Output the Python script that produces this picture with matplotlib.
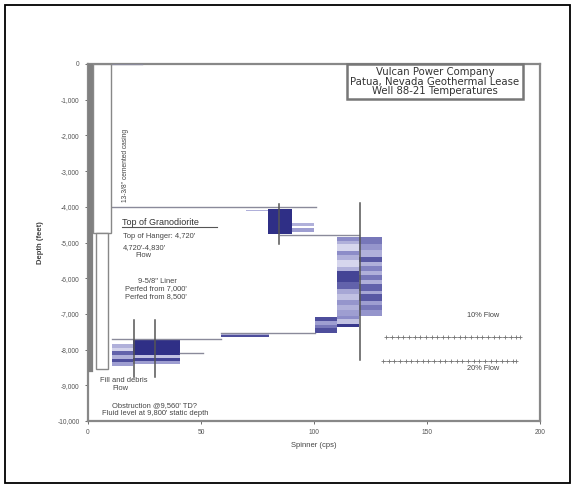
import matplotlib
matplotlib.use("Agg")
import matplotlib.pyplot as plt
from matplotlib.patches import Rectangle
from matplotlib.colors import LinearSegmentedColormap
from matplotlib.ticker import FuncFormatter

plt.rcParams['font.family'] = ['Liberation Sans', 'DejaVu Sans']

# ---------------- data ----------------
x_ticks = [0, 50, 100, 150, 200]
y_ticks = [0, -1000, -2000, -3000, -4000, -5000, -6000, -7000, -8000, -9000, -10000]

# spinner blocks: x_left, x_right, depth_top, depth_bottom, intensity
top_block = [(79.6, 90.3, -4070, -4770, 0.95),
             (90.3, 100.0, -4450, -4550, 0.3),
             (90.3, 100.0, -4600, -4700, 0.4),
             (70.0, 79.6, -4080, -4130, 0.3)]

cluster_left = [(110, 120, -4850, -4950, 0.5), (110, 120, -4950, -5050, 0.3),
                (110, 120, -5050, -5250, 0.08), (110, 120, -5250, -5350, 0.5),
                (110, 120, -5350, -5500, 0.3), (110, 120, -5500, -5700, 0.08),
                (110, 120, -5700, -5800, 0.3), (110, 120, -5800, -6100, 0.85),
                (110, 120, -6100, -6300, 0.7), (110, 120, -6300, -6450, 0.35),
                (110, 120, -6450, -6600, 0.2), (110, 120, -6600, -6750, 0.45),
                (110, 120, -6750, -6900, 0.3), (110, 120, -6900, -7050, 0.4)]

cluster_right = [(120, 130, -4850, -5050, 0.6), (120, 130, -5050, -5200, 0.45),
                 (120, 130, -5200, -5400, 0.3), (120, 130, -5400, -5550, 0.75),
                 (120, 130, -5550, -5650, 0.3), (120, 130, -5650, -5800, 0.55),
                 (120, 130, -5800, -5900, 0.3), (120, 130, -5900, -6050, 0.6),
                 (120, 130, -6050, -6150, 0.3), (120, 130, -6150, -6350, 0.7),
                 (120, 130, -6350, -6450, 0.35), (120, 130, -6450, -6650, 0.75),
                 (120, 130, -6650, -6750, 0.4), (120, 130, -6750, -6900, 0.6),
                 (120, 130, -6900, -7050, 0.45)]

lower_mid = [(110, 120, -7050, -7150, 0.5), (110, 120, -7150, -7280, 0.2),
             (110, 120, -7280, -7380, 0.9),
             (100.5, 110, -7100, -7200, 0.8), (100.5, 110, -7200, -7300, 0.4),
             (100.5, 110, -7300, -7400, 0.6), (100.5, 110, -7400, -7540, 0.8),
             (59, 80, -7540, -7590, 0.3), (59, 80, -7590, -7640, 0.8)]

lower_left = [(20, 40.6, -7710, -8150, 0.95), (20, 40.6, -8150, -8230, 0.2),
              (20, 40.6, -8230, -8330, 0.85), (20, 40.6, -8330, -8400, 0.4),
              (10.5, 20, -7850, -7950, 0.3), (10.5, 20, -7950, -8050, 0.1),
              (10.5, 20, -8050, -8150, 0.7), (10.5, 20, -8150, -8250, 0.3),
              (10.5, 20, -8250, -8350, 0.8), (10.5, 20, -8350, -8450, 0.4)]

# horizontal reference lines: depth, x_start, x_end
h_lines = [(-4000, 10.5, 100.8), (-4780, 85, 120), (-7700, 10.5, 59),
           (-7540, 59, 100.5), (-8100, 40.6, 50.8), (0, 10.5, 24)]

# vertical bars: x, depth_top, depth_bottom
v_lines = [(84.5, -3930, -5050), (120.2, -3880, -8300),
           (20.2, -7180, -8760), (29.5, -7180, -8760)]

# flow lines
flow_10_x = [132, 134.5, 137, 139.5, 142, 144.5, 147, 149.5, 152, 154.5, 157, 159.5, 162, 164.5, 167, 169.5, 172, 174.5, 177, 179.5, 182, 184.5, 187, 189.5, 191]
flow_10_y = [-7650] * len(flow_10_x)
flow_20_x = [130.6, 133.1, 135.6, 138.1, 140.6, 143.1, 145.6, 148.1, 150.6, 153.1, 155.6, 158.1, 160.6, 163.1, 165.6, 168.1, 170.6, 173.1, 175.6, 178.1, 180.6, 183.1, 185.6, 188.1, 189.5]
flow_20_y = [-8330] * len(flow_20_x)

# well construction
casing = (2.4, 10.0, 0, -4720)
liner = (3.7, 9.0, -4720, -8530)
well_track_depth = -8530

# ---------------- figure ----------------
fig = plt.figure(figsize=(5.75, 4.88), dpi=100)
fig.patches.append(Rectangle((5/575, 5/488), 565/575, 478/488, transform=fig.transFigure,
                             fill=False, edgecolor='black', linewidth=1.3))
ax = fig.add_axes([88/575, 1 - 421/488, 452/575, 357/488])

cmap = LinearSegmentedColormap.from_list('sp', ['#e4e4f4', '#8c8cc8', '#25257f'])

for blocks in (top_block, cluster_left, cluster_right, lower_mid, lower_left):
    for x0, x1, d0, d1, v in blocks:
        ax.add_patch(Rectangle((x0, d1), x1 - x0, d0 - d1, facecolor=cmap(v),
                               edgecolor='none', zorder=2))

for d, x0, x1 in h_lines:
    ax.plot([x0, x1], [d, d], color='#8a8a9a', linewidth=1.0, zorder=3)

for x, d0, d1 in v_lines:
    ax.plot([x, x], [d0, d1], color='#555555', linewidth=1.1, zorder=4)

for fx, fy in ((flow_10_x, flow_10_y), (flow_20_x, flow_20_y)):
    ax.plot(fx, fy, color='#777777', linewidth=0.5, marker='+', markersize=2.6,
            markeredgewidth=0.6, zorder=3)
ax.text(175, -7050, '10% Flow', fontsize=5.3, ha='center', va='center', color='#444444')
ax.text(175, -8530, '20% Flow', fontsize=5.3, ha='center', va='center', color='#444444')

# well
ax.plot([0.7, 0.7], [0, well_track_depth], color='#808080', linewidth=4.5, zorder=5)
cx0, cx1, cd0, cd1 = casing
ax.add_patch(Rectangle((cx0, cd1), cx1 - cx0, cd0 - cd1, facecolor='white',
                       edgecolor='#888888', linewidth=1.0, zorder=5))
lx0, lx1, ld0, ld1 = liner
ax.add_patch(Rectangle((lx0, ld1), lx1 - lx0, ld0 - ld1, facecolor='white',
                       edgecolor='#888888', linewidth=1.0, zorder=5))

# annotations
tc = '#444444'
fs = 5.4
ax.text(16.4, -2850, '13-3/8" cemented casing', rotation=90, fontsize=4.8,
        ha='center', va='center', color=tc)
ax.text(15, -4440, 'Top of Granodiorite', fontsize=6.5, ha='left', va='center',
        color='#333333')
ax.plot([15, 57], [-4570, -4570], color='#555555', linewidth=0.8)
ax.text(15.5, -4830, 'Top of Hanger: 4,720\'', fontsize=fs, ha='left', va='center', color=tc)
ax.text(15.5, -5140, '4,720\'-4,830\'', fontsize=fs, ha='left', va='center', color=tc)
ax.text(21, -5370, 'Flow', fontsize=fs, ha='left', va='center', color=tc)
ax.text(30.6, -6100, '9-5/8" Liner', fontsize=fs, ha='center', va='center', color=tc)
ax.text(30, -6300, 'Perfed from 7,000\'', fontsize=fs, ha='center', va='center', color=tc)
ax.text(30, -6510, 'Perfed from 8,500\'', fontsize=fs, ha='center', va='center', color=tc)
ax.text(15.8, -8875, 'Fill and debris', fontsize=fs, ha='center', va='center', color=tc)
ax.text(14.5, -9090, 'Flow', fontsize=fs, ha='center', va='center', color=tc)
ax.text(29.5, -9570, 'Obstruction @9,560\' TD?', fontsize=fs, ha='center', va='center', color=tc)
ax.text(29.8, -9800, 'Fluid level at 9,800\' static depth', fontsize=fs, ha='center', va='center', color=tc)

ax.text(153.5, -500, 'Vulcan Power Company\nPatua, Nevada Geothermal Lease\nWell 88-21 Temperatures',
        fontsize=7.3, family=['DejaVu Sans'], ha='center', va='center',
        multialignment='center', linespacing=0.95, color='#333333',
        bbox=dict(boxstyle='square,pad=0.3', facecolor='white', edgecolor='#777777', linewidth=1.8))

ax.set_xlim(0, 200)
ax.set_ylim(-10000, 0)
ax.set_xticks(x_ticks)
ax.set_yticks(y_ticks)
ax.yaxis.set_major_formatter(FuncFormatter(lambda v, p: f'{int(v):,}'))
ax.tick_params(labelsize=4.8, colors='#555555', length=2.5, width=0.6)
for s in ax.spines.values():
    s.set_color('#888888')
    s.set_linewidth(1.6)
ax.set_xlabel('Spinner (cps)', fontsize=5.5, color='#444444', labelpad=4)
ax.set_ylabel('Depth (feet)', fontsize=5.5, color='#444444', labelpad=10, fontweight='bold')

fig.savefig('out.png', dpi=100)
